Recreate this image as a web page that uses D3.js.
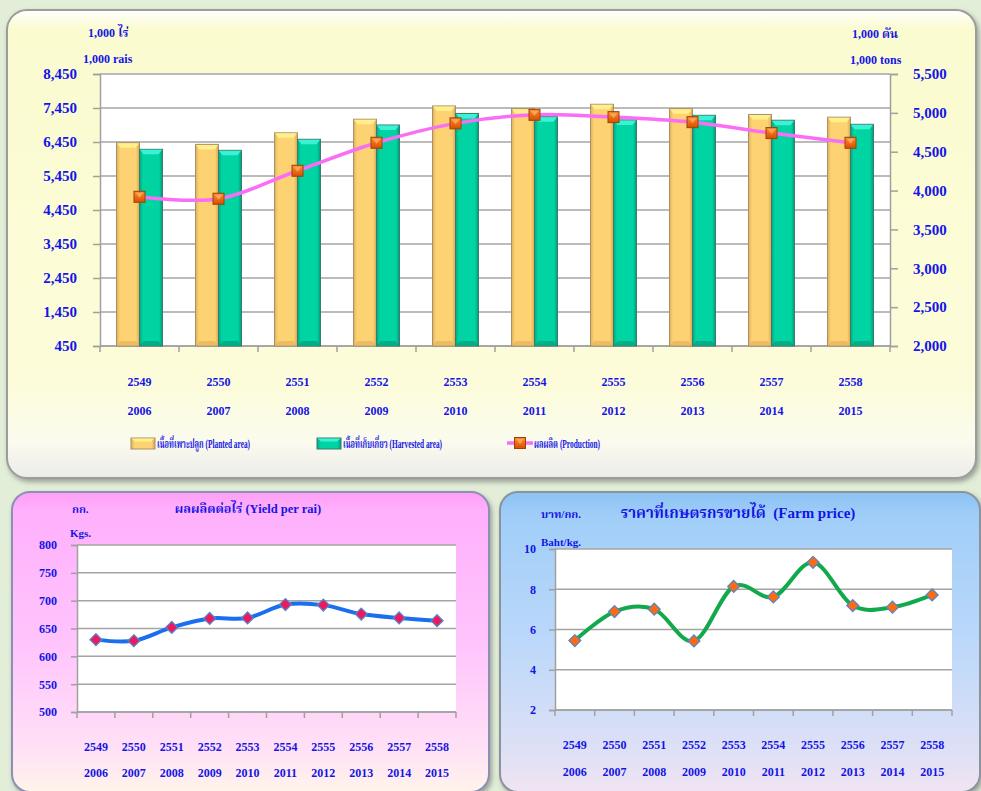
<!DOCTYPE html>
<html><head><meta charset="utf-8">
<script src="https://cdn.jsdelivr.net/npm/d3@7"></script>
<style>
body{margin:0;background:#e2eed8;overflow:hidden;}
svg{display:block;}
text{font-family:"Liberation Serif","Times New Roman","Noto Serif Thai","Noto Sans Thai","Loma","Garuda",serif;font-weight:bold;fill:#1414e6;}
</style></head><body>
<svg id="c" width="981" height="791"></svg>
<script>
// ---------- data ----------
const thaiYears = ["2549","2550","2551","2552","2553","2554","2555","2556","2557","2558"];
const years = ["2006","2007","2008","2009","2010","2011","2012","2013","2014","2015"];
const planted = [6430,6380,6720,7120,7510,7430,7560,7430,7260,7180];
const harvested = [6235,6205,6530,6950,7290,7195,7100,7235,7090,6970];
const production = [3920,3895,4255,4615,4865,4975,4945,4880,4740,4615];
const yieldPerRai = [630,628,652,668,669,693,692,676,669,664];
const farmPrice = [5.45,6.89,7.01,5.43,8.14,7.62,9.34,7.19,7.11,7.72];
const areaTicks = [450,1450,2450,3450,4450,5450,6450,7450,8450];
const prodTicks = [2000,2500,3000,3500,4000,4500,5000,5500];
const yieldTicks = [500,550,600,650,700,750,800];
const priceTicks = [2,4,6,8,10];
const legendLabels = ["เนื้อที่เพาะปลูก (Planted area)","เนื้อที่เก็บเกี่ยว (Harvested area)","ผลผลิต (Production)"];

const svg = d3.select("#c");
const defs = svg.append("defs");

function vgrad(id, stops){
  const g = defs.append("linearGradient").attr("id",id).attr("x1",0).attr("y1",0).attr("x2",0).attr("y2",1);
  stops.forEach(s=>g.append("stop").attr("offset",s[0]).attr("stop-color",s[1]));
}
function hgrad(id, stops){
  const g = defs.append("linearGradient").attr("id",id).attr("x1",0).attr("y1",0).attr("x2",1).attr("y2",0);
  stops.forEach(s=>g.append("stop").attr("offset",s[0]).attr("stop-color",s[1]));
}
vgrad("gTop",[[0,"#ffffff"],[0.04,"#fbfbd0"],[0.8,"#fcfcda"],[0.92,"#fbfbee"],[1,"#ececea"]]);
vgrad("gPink",[[0,"#ff9ef6"],[0.06,"#ffb0fc"],[0.5,"#ffc4fc"],[0.85,"#ffe0f6"],[1,"#fff4ea"]]);
vgrad("gBlue",[[0,"#8cc2f4"],[0.08,"#a0cef8"],[0.5,"#bcd8fa"],[0.85,"#dde0f6"],[1,"#f0e4f2"]]);
hgrad("gPlanted",[[0,"#e0b05a"],[0.15,"#fdd272"],[0.85,"#fdd272"],[1,"#d8a650"]]);
hgrad("gHarv",[[0,"#00a884"],[0.15,"#00d4a2"],[0.85,"#00d4a2"],[1,"#009c7c"]]);
vgrad("gMark",[[0,"#ff8a30"],[1,"#d85000"]]);
const f = defs.append("filter").attr("id","shadow").attr("x","-5%").attr("y","-5%").attr("width","110%").attr("height","115%");
f.append("feDropShadow").attr("dx",2).attr("dy",3).attr("stdDeviation",2.5).attr("flood-color","#606060").attr("flood-opacity",0.55);

// ---------- panels ----------
svg.append("rect").attr("x",7).attr("y",10).attr("width",969).attr("height",468).attr("rx",20)
  .attr("fill","url(#gTop)").attr("stroke","#9c9c9c").attr("stroke-width",2).attr("filter","url(#shadow)");
svg.append("rect").attr("x",12).attr("y",492).attr("width",477).attr("height",300).attr("rx",18)
  .attr("fill","url(#gPink)").attr("stroke","#8a8fb4").attr("stroke-width",2).attr("filter","url(#shadow)");
svg.append("rect").attr("x",500).attr("y",492).attr("width",480).attr("height",300).attr("rx",18)
  .attr("fill","url(#gBlue)").attr("stroke","#8a949c").attr("stroke-width",2).attr("filter","url(#shadow)");

// ---------- top chart ----------
const T = {l:100,r:890,t:74,b:346};
const xT = d3.scaleBand().domain(years).range([T.l,T.r]).paddingInner(0.418).paddingOuter(0.209);
const xSub = d3.scaleBand().domain(["p","h"]).range([0,xT.bandwidth()]);
const xStep = d3.scaleBand().domain(years).range([T.l,T.r]);
const yA = d3.scaleLinear().domain([450,8450]).range([T.b,T.t]);
const yP = d3.scaleLinear().domain([2000,5500]).range([T.b,T.t]);

const topG = svg.append("g");
topG.append("rect").attr("x",T.l).attr("y",T.t).attr("width",T.r-T.l).attr("height",T.b-T.t).attr("fill","#fff");
topG.append("g").selectAll("line").data(areaTicks).join("line")
  .attr("x1",T.l).attr("x2",T.r).attr("y1",d=>yA(d)).attr("y2",d=>yA(d))
  .attr("stroke","#a4a4a4").attr("stroke-width",1.5);

const axL = topG.append("g").attr("transform",`translate(${T.l},0)`)
  .call(d3.axisLeft(yA).tickValues(areaTicks).tickSize(7).tickPadding(16).tickFormat(d3.format(",")));
const axR = topG.append("g").attr("transform",`translate(${T.r},0)`)
  .call(d3.axisRight(yP).tickValues(prodTicks).tickSize(8).tickPadding(15).tickFormat(d3.format(",")));
[axL,axR].forEach(a=>{
  a.selectAll("path,line").attr("stroke","#a0a0a0").attr("stroke-width",1.5);
  a.selectAll("text").attr("font-size",15).style("font-family",'"Liberation Serif",serif').attr("fill","#1414e6");
});
topG.append("line").attr("x1",T.l).attr("x2",T.r).attr("y1",T.b).attr("y2",T.b).attr("stroke","#a0a0a0").attr("stroke-width",1.5);
topG.append("g").selectAll("line").data(d3.range(years.length+1)).join("line")
  .attr("x1",i=>T.l+i*xStep.step()).attr("x2",i=>T.l+i*xStep.step())
  .attr("y1",T.b).attr("y2",T.b+6).attr("stroke","#a0a0a0").attr("stroke-width",1.5);

// bars
function bar(g, x, w, v, fillId, topCol, botCol, strokeCol){
  const y0 = yA(v), y1 = T.b;
  g.append("rect").attr("x",x).attr("y",y0).attr("width",w).attr("height",y1-y0)
    .attr("fill",`url(#${fillId})`).attr("stroke",strokeCol).attr("stroke-width",1);
  g.append("polygon").attr("points",`${x+0.5},${y0+0.5} ${x+w-0.5},${y0+0.5} ${x+w-4},${y0+5} ${x+4},${y0+5}`)
    .attr("fill",topCol);
  g.append("polygon").attr("points",`${x+0.5},${y1-0.5} ${x+w-0.5},${y1-0.5} ${x+w-4},${y1-5} ${x+4},${y1-5}`)
    .attr("fill",botCol).attr("opacity",0.7);
}
const barsG = topG.append("g");
years.forEach((yr,i)=>{
  bar(barsG, xT(yr)+xSub("p"), xSub.bandwidth(), planted[i], "gPlanted", "#fff08c", "#e2b25a", "#a89068");
  bar(barsG, xT(yr)+xSub("h"), xSub.bandwidth(), harvested[i], "gHarv", "#3cf2d6", "#00a07e", "#3c7a6c");
});

// production line
const cx = yr => xT(yr)+xT.bandwidth()/2;
topG.append("path").datum(production)
  .attr("d", d3.line().x((d,i)=>cx(years[i])).y(d=>yP(d)).curve(d3.curveCardinal.tension(0)))
  .attr("fill","none").attr("stroke","#fa6ef6").attr("stroke-width",3.5);
function sqMarker(g, x, y){
  g.append("rect").attr("x",x-5.5).attr("y",y-5.5).attr("width",11).attr("height",11)
    .attr("fill","url(#gMark)").attr("stroke","#9a4208").attr("stroke-width",1);
  g.append("polygon").attr("points",`${x-4},${y-4} ${x+4},${y-4} ${x},${y+1}`).attr("fill","#ffb060").attr("opacity",0.8);
}
const mk = topG.append("g");
production.forEach((v,i)=>sqMarker(mk, cx(years[i]), yP(v)));

// x labels
topG.append("g").selectAll("text").data(thaiYears).join("text")
  .attr("x",(d,i)=>cx(years[i])).attr("y",386).attr("text-anchor","middle").attr("font-size",12).text(d=>d);
topG.append("g").selectAll("text").data(years).join("text")
  .attr("x",d=>cx(d)).attr("y",415).attr("text-anchor","middle").attr("font-size",12).text(d=>d);

// unit labels
topG.append("text").attr("x",88).attr("y",37).attr("font-size",12).text("1,000 ไร่");
topG.append("text").attr("x",83).attr("y",63).attr("font-size",12).text("1,000 rais");
topG.append("text").attr("x",852).attr("y",38).attr("font-size",12).text("1,000 ตัน");
topG.append("text").attr("x",850).attr("y",64).attr("font-size",12).text("1,000 tons");

// legend
const lg = topG.append("g");
function swatch(x, fillId, topCol, strokeCol){
  lg.append("rect").attr("x",x).attr("y",438).attr("width",24).attr("height",11).attr("fill",`url(#${fillId})`).attr("stroke",strokeCol);
  lg.append("polygon").attr("points",`${x+0.5},${438.5} ${x+23.5},${438.5} ${x+20},${441.5} ${x+4},${441.5}`).attr("fill",topCol);
}
function legText(x, label, len){
  lg.append("text").attr("x",x).attr("y",447.5).attr("font-size",12)
    .attr("textLength",len).attr("lengthAdjust","spacingAndGlyphs").text(label);
}
swatch(131,"gPlanted","#fff08c","#a89068");
legText(157, legendLabels[0], 93);
swatch(317,"gHarv","#3cf2d6","#3c7a6c");
legText(343, legendLabels[1], 99);
lg.append("line").attr("x1",507).attr("x2",533).attr("y1",443).attr("y2",443).attr("stroke","#fa6ef6").attr("stroke-width",3.5);
sqMarker(lg,520,443);
legText(534, legendLabels[2], 66);

// ---------- small line charts ----------
function lineChart(o){
  const g = svg.append("g");
  const x = d3.scaleBand().domain(years).range([o.l,o.r]);
  const y = d3.scaleLinear().domain(o.domain).range([o.b,o.t]);
  g.append("rect").attr("x",o.l).attr("y",o.t).attr("width",o.r-o.l).attr("height",o.b-o.t).attr("fill","#fff");
  g.append("g").selectAll("line").data(o.ticks).join("line")
    .attr("x1",o.l).attr("x2",o.r).attr("y1",d=>y(d)).attr("y2",d=>y(d))
    .attr("stroke","#a4a4a4").attr("stroke-width",1.5);
  const ax = g.append("g").attr("transform",`translate(${o.l},0)`)
    .call(d3.axisLeft(y).tickValues(o.ticks).tickSize(6).tickPadding(o.pad).tickFormat(d3.format("d")));
  ax.selectAll("path,line").attr("stroke","#a0a0a0").attr("stroke-width",1.5);
  ax.selectAll("text").attr("font-size",12).style("font-family",'"Liberation Serif",serif').attr("fill","#1414e6");
  g.append("line").attr("x1",o.l).attr("x2",o.r).attr("y1",o.b).attr("y2",o.b).attr("stroke","#a0a0a0").attr("stroke-width",1.5);
  g.append("g").selectAll("line").data(d3.range(years.length+1)).join("line")
    .attr("x1",i=>o.l+i*x.step()).attr("x2",i=>o.l+i*x.step())
    .attr("y1",o.b).attr("y2",o.b+6).attr("stroke","#a0a0a0").attr("stroke-width",1.5);
  const px = yr => x(yr)+x.bandwidth()/2;
  g.append("path").datum(o.values)
    .attr("d", d3.line().x((d,i)=>px(years[i])).y(d=>y(d)).curve(d3.curveCardinal.tension(0)))
    .attr("fill","none").attr("stroke",o.color).attr("stroke-width",4);
  g.append("g").selectAll("path").data(o.values).join("path")
    .attr("d", d3.symbol(d3.symbolDiamond2, 90)())
    .attr("transform",(d,i)=>`translate(${px(years[i])},${y(d)})`)
    .attr("fill",o.markFill).attr("stroke","#5a84c4").attr("stroke-width",1.3);
  g.append("g").selectAll("text").data(thaiYears).join("text")
    .attr("x",(d,i)=>px(years[i])).attr("y",o.yl1).attr("text-anchor","middle").attr("font-size",12).text(d=>d);
  g.append("g").selectAll("text").data(years).join("text")
    .attr("x",d=>px(d)).attr("y",o.yl2).attr("text-anchor","middle").attr("font-size",12).text(d=>d);
  return g;
}

const g1 = lineChart({l:77,r:456,t:545,b:712,domain:[500,800],ticks:yieldTicks,pad:14,
  values:yieldPerRai,color:"#1a6ff0",markFill:"#ee1860",yl1:751,yl2:777});
g1.append("text").attr("x",72).attr("y",513).attr("font-size",11).text("กก.");
g1.append("text").attr("x",70).attr("y",537).attr("font-size",11).text("Kgs.");
g1.append("text").attr("x",248).attr("y",513).attr("text-anchor","middle").attr("font-size",12.5).text("ผลผลิตต่อไร่ (Yield per rai)");

const g2 = lineChart({l:555,r:952,t:549,b:710,domain:[2,10],ticks:priceTicks,pad:13,
  values:farmPrice,color:"#12a84c",markFill:"#ff6a10",yl1:749,yl2:776});
g2.append("text").attr("x",541).attr("y",518).attr("font-size",11).text("บาท/กก.");
g2.append("text").attr("x",541).attr("y",546).attr("font-size",11).text("Baht/kg.");
g2.append("text").attr("x",738).attr("y",518).attr("text-anchor","middle").attr("font-size",15).style("white-space","pre").text("ราคาที่เกษตรกรขายได้  (Farm price)");
</script>
</body></html>
